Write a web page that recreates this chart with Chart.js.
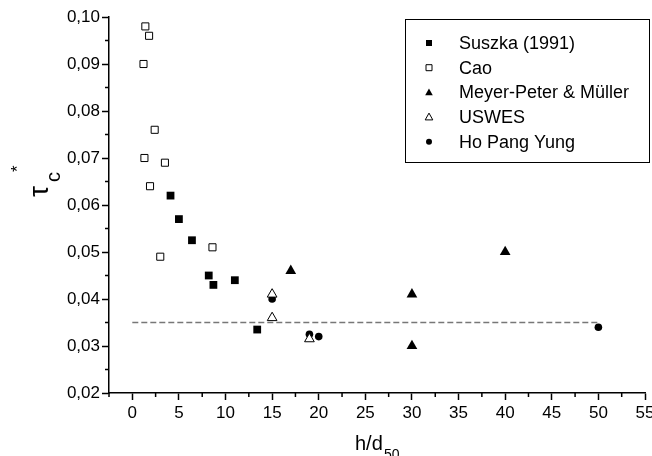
<!DOCTYPE html>
<html>
<head>
<meta charset="utf-8">
<script src="https://cdn.jsdelivr.net/npm/chart.js@4.4.1/dist/chart.umd.min.js"></script>
<style>
  html, body { margin: 0; padding: 0; background: #fff; }
  #wrap { width: 652px; height: 456px; }
</style>
</head>
<body>
<div id="wrap"><canvas id="grafico" width="652" height="456"></canvas></div>
<script>
// valores
const suszkaX = [4.1, 5.0, 6.4, 8.2, 8.7, 11.0, 13.4];
const suszkaY = [0.062, 0.057, 0.0525, 0.045, 0.043, 0.044, 0.0335];
const caoX = [1.4, 1.8, 1.2, 2.4, 1.3, 3.5, 1.9, 3.0, 8.6];
const caoY = [0.098, 0.096, 0.090, 0.076, 0.070, 0.069, 0.064, 0.049, 0.051];
const mpmX = [17, 30, 30, 40];
const mpmY = [0.046, 0.041, 0.030, 0.050];
const uswesX = [15, 15, 19];
const uswesY = [0.041, 0.036, 0.0315];
const hoX = [15, 19, 20, 50];
const hoY = [0.040, 0.0325, 0.032, 0.034];
const limiteX = [0, 50];
const limiteY = [0.035, 0.035];

const xTicks = [0, 5, 10, 15, 20, 25, 30, 35, 40, 45, 50, 55];
const xMinor = [-2.5, 2.5, 7.5, 12.5, 17.5, 22.5, 27.5, 32.5, 37.5, 42.5, 47.5, 52.5];
const yTicks = [0.02, 0.03, 0.04, 0.05, 0.06, 0.07, 0.08, 0.09, 0.10];
const yMinor = [0.025, 0.035, 0.045, 0.055, 0.065, 0.075, 0.085, 0.095];

const FONT = "'Liberation Sans', Arial, sans-serif";

function puntos(xs, ys) {
    return xs.map((x, i) => ({ x: x, y: ys[i] }));
}

const series = [
    { label: 'Suszka (1991)', data: puntos(suszkaX, suszkaY), pointStyle: 'rect', pointRadius: 5.5, backgroundColor: '#000', borderColor: '#000', borderWidth: 0 },
    { label: 'Cao', data: puntos(caoX, caoY), pointStyle: 'rect', pointRadius: 5, backgroundColor: '#fff', borderColor: '#000', borderWidth: 1 },
    { label: 'Meyer-Peter & Müller', data: puntos(mpmX, mpmY), pointStyle: 'triangle', pointRadius: 6.2, backgroundColor: '#000', borderColor: '#000', borderWidth: 0 },
    { label: 'USWES', data: puntos(uswesX, uswesY), pointStyle: 'triangle', pointRadius: 5.6, backgroundColor: '#fff', borderColor: '#000', borderWidth: 1 },
    { label: 'Ho Pang Yung', data: puntos(hoX, hoY), pointStyle: 'circle', pointRadius: 3.8, backgroundColor: '#000', borderColor: '#000', borderWidth: 0 }
];

const linea = {
    type: 'line',
    label: 'limite',
    data: puntos(limiteX, limiteY),
    borderColor: '#777',
    borderWidth: 1.5,
    borderDash: [6, 3],
    pointRadius: 0,
    fill: false,
    order: 10
};

// ticks menores, leyenda y titulos de ejes
const extras = {
    id: 'extras',
    afterDraw(chart) {
        const ctx = chart.ctx;
        const area = chart.chartArea;
        const sx = chart.scales.x, sy = chart.scales.y;
        ctx.save();
        ctx.strokeStyle = '#000';
        ctx.lineWidth = 1.5;
        ctx.beginPath();
        xMinor.forEach(v => {
            const px = sx.getPixelForValue(v);
            ctx.moveTo(px, area.bottom);
            ctx.lineTo(px, area.bottom + 4);
        });
        yMinor.forEach(v => {
            const py = sy.getPixelForValue(v);
            ctx.moveTo(area.left - 4, py);
            ctx.lineTo(area.left, py);
        });
        ctx.stroke();

        // leyenda
        ctx.lineWidth = 1;
        ctx.strokeRect(405.5, 19.5, 244, 143);
        ctx.font = '18px ' + FONT;
        ctx.textBaseline = 'middle';
        ctx.textAlign = 'left';
        series.forEach((s, i) => {
            const y = 43 + i * 24.7;
            const x = 429;
            ctx.fillStyle = s.backgroundColor;
            ctx.strokeStyle = '#000';
            ctx.lineWidth = 1;
            ctx.beginPath();
            if (s.pointStyle === 'rect') {
                ctx.rect(x - 3, y - 3, 6, 6);
            } else if (s.pointStyle === 'triangle') {
                ctx.moveTo(x, y - 4);
                ctx.lineTo(x + 3.8, y + 2.8);
                ctx.lineTo(x - 3.8, y + 2.8);
                ctx.closePath();
            } else {
                ctx.arc(x, y, 3, 0, Math.PI * 2);
            }
            ctx.fill();
            if (s.borderWidth) ctx.stroke();
            ctx.fillStyle = '#000';
            ctx.fillText(s.label, 459, y + 1);
        });

        // titulo eje x
        ctx.textBaseline = 'alphabetic';
        ctx.font = '20px ' + FONT;
        ctx.fillText('h/d', 355, 450);
        ctx.font = '14px ' + FONT;
        ctx.fillText('50', 384, 459);

        // titulo eje y
        ctx.translate(48, 197);
        ctx.rotate(-Math.PI / 2);
        ctx.font = '28px ' + FONT;
        ctx.fillText('τ', 0, 0);
        ctx.font = '20px ' + FONT;
        ctx.fillText('c', 15, 12);
        ctx.font = '17px ' + FONT;
        ctx.fillText('*', 25, -25);
        ctx.restore();
    }
};

const ctx2 = document.getElementById('grafico');

new Chart(ctx2, {
    type: 'scatter',
    data: {
        datasets: series.map(s => Object.assign({}, s)).concat([linea])
    },
    options: {
        responsive: false,
        animation: false,
        layout: { padding: { top: 17, right: 7, left: 0, bottom: 0 } },
        plugins: {
            legend: { display: false },
            tooltip: { enabled: false }
        },
        scales: {
            x: {
                type: 'linear',
                min: -2.5,
                max: 55,
                afterBuildTicks: (scale) => { scale.ticks = xTicks.map(v => ({ value: v })); },
                afterFit: (scale) => { scale.height = 63; scale.paddingLeft = 0; scale.paddingRight = 0; },
                border: { color: '#000', width: 1.5 },
                grid: { drawOnChartArea: false, tickLength: 7, tickColor: '#000', tickWidth: 1.5 },
                ticks: { color: '#000', padding: 3, maxRotation: 0, font: { family: FONT, size: 17 } }
            },
            y: {
                type: 'linear',
                min: 0.02,
                max: 0.10,
                afterBuildTicks: (scale) => { scale.ticks = yTicks.map(v => ({ value: v })); },
                afterFit: (scale) => { scale.width = 109; },
                border: { color: '#000', width: 1.5 },
                grid: { drawOnChartArea: false, tickLength: 7, tickColor: '#000', tickWidth: 1.5 },
                ticks: {
                    color: '#000',
                    padding: 2,
                    font: { family: FONT, size: 17 },
                    callback: (v) => v.toFixed(2).replace('.', ',')
                }
            }
        }
    },
    plugins: [extras]
});
</script>
</body>
</html>
